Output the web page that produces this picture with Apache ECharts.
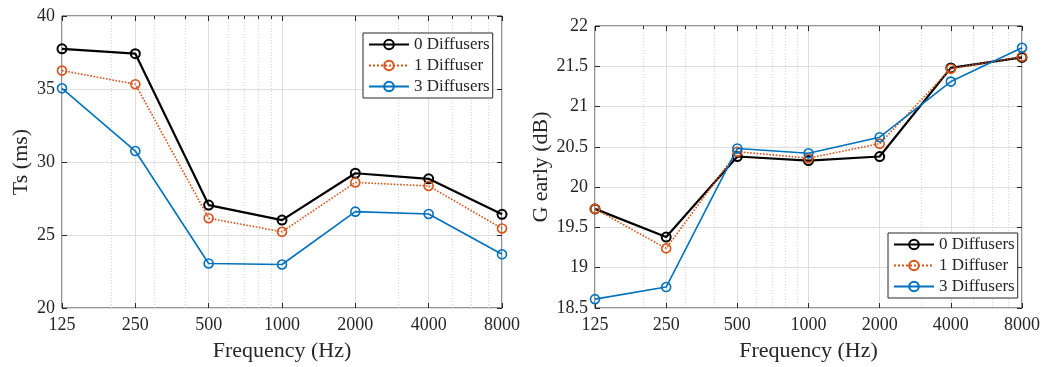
<!DOCTYPE html>
<html>
<head>
<meta charset="utf-8">
<script src="https://cdn.jsdelivr.net/npm/echarts@6/dist/echarts.min.js"></script>
<style>html,body{margin:0;padding:0;background:#fff}#c{width:1044px;height:367px}</style>
</head>
<body>
<div id="c"></div>
<script>
// ---- data ----
const freqs = [125, 250, 500, 1000, 2000, 4000, 8000];
const minorFreqs = [200, 300, 400, 600, 700, 800, 900, 3000, 5000, 6000, 7000];
const seriesNames = ['0 Diffusers', '1 Diffuser', '3 Diffusers'];
const ts0 = [37.75, 37.42, 27.05, 26.02, 29.23, 28.85, 26.42];
const ts1 = [36.26, 35.33, 26.15, 25.22, 28.60, 28.36, 25.45];
const ts3 = [35.05, 30.75, 23.05, 22.98, 26.60, 26.44, 23.68];
const g0 = [19.73, 19.38, 20.38, 20.33, 20.38, 21.48, 21.61];
const g1 = [19.73, 19.24, 20.44, 20.36, 20.54, 21.47, 21.62];
const g3 = [18.61, 18.76, 20.48, 20.42, 20.62, 21.31, 21.73];
const tsTicks = [20, 25, 30, 35, 40];
const gTicks = [18.5, 19, 19.5, 20, 20.5, 21, 21.5, 22];

const FONT = 'Liberation Serif';
const AX = '#262626';
const colors = ['#000000', '#D95319', '#0072BD'];
const widths = [2.2, 1.6, 1.6];
const types = ['solid', 'dotted', 'solid'];

function xAxes(gridIndex) {
  return [
    {
      type: 'log', logBase: 2, gridIndex, min: freqs[0], max: freqs[freqs.length - 1],
      name: 'Frequency (Hz)', nameLocation: 'middle', nameGap: 32,
      nameTextStyle: { fontFamily: FONT, fontSize: 22, color: AX },
      axisLine: { show: false },
      axisTick: { show: true, inside: true, length: 5, customValues: freqs, lineStyle: { color: AX } },
      axisLabel: { customValues: freqs, fontFamily: FONT, fontSize: 18, color: AX, margin: 8,
        formatter: v => String(Math.round(v)) },
      splitLine: { show: true, lineStyle: { color: '#dfdfdf', width: 1 } },
      minorTick: { show: false }
    },
    {
      type: 'log', logBase: 2, gridIndex, min: freqs[0], max: freqs[freqs.length - 1],
      axisLine: { show: false },
      axisTick: { show: true, inside: true, length: 3, customValues: minorFreqs, lineStyle: { color: AX } },
      axisLabel: { show: false, customValues: minorFreqs },
      splitLine: { show: true, lineStyle: { color: '#d4d4d4', width: 1, type: [1, 2] } }
    },
    {
      type: 'log', logBase: 2, gridIndex, min: freqs[0], max: freqs[freqs.length - 1], position: 'top',
      axisLine: { show: false },
      axisTick: { show: true, inside: true, length: 5, customValues: freqs, lineStyle: { color: AX } },
      axisLabel: { show: false, customValues: freqs },
      splitLine: { show: false }
    }
  ];
}

function yAxes(gridIndex, min, max, interval, name, nameGap) {
  return [
    {
      type: 'value', gridIndex, min, max, interval,
      name, nameLocation: 'middle', nameGap,
      nameTextStyle: { fontFamily: FONT, fontSize: 22, color: AX },
      axisLine: { show: false },
      axisTick: { show: true, inside: true, length: 5, lineStyle: { color: AX } },
      axisLabel: { fontFamily: FONT, fontSize: 18, color: AX, margin: 7 },
      splitLine: { show: true, lineStyle: { color: '#dfdfdf', width: 1 } }
    },
    {
      type: 'value', gridIndex, min, max, interval, position: 'right',
      axisLine: { show: false },
      axisTick: { show: true, inside: true, length: 5, lineStyle: { color: AX } },
      axisLabel: { show: false },
      splitLine: { show: false }
    }
  ];
}

function mkSeries(vals, xIdx, yIdx) {
  return vals.map((arr, k) => ({
    type: 'line', name: seriesNames[k], xAxisIndex: xIdx, yAxisIndex: yIdx,
    data: freqs.map((f, i) => [f, arr[i]]),
    symbol: 'circle', symbolSize: 9,
    itemStyle: { color: 'rgba(255,255,255,0)', borderColor: colors[k], borderWidth: k === 0 ? 2 : 1.6 },
    lineStyle: { color: colors[k], width: widths[k], type: types[k] },
    z: 3 + k, animation: false
  }));
}

function legend(left, top) {
  return {
    left, top, orient: 'vertical', itemWidth: 40, itemHeight: 12, itemGap: 4,
    padding: [3, 3, 3, 5], borderColor: AX, borderWidth: 1, backgroundColor: '#fff',
    textStyle: { fontFamily: FONT, fontSize: 17, color: AX },
    data: seriesNames, selectedMode: false
  };
}

const chart = echarts.init(document.getElementById('c'), null, { renderer: 'canvas' });
chart.setOption({
  animation: false,
  backgroundColor: '#fff',
  grid: [
    { left: 62, right: 542, top: 16, bottom: 56, show: true, borderColor: AX, borderWidth: 1, backgroundColor: 'transparent' },
    { left: 595, right: 22, top: 26, bottom: 55, show: true, borderColor: AX, borderWidth: 1, backgroundColor: 'transparent' }
  ],
  legend: [legend(363, 33), legend(888, 233)],
  xAxis: [...xAxes(0), ...xAxes(1)],
  yAxis: [...yAxes(0, tsTicks[0], tsTicks[tsTicks.length - 1], 5, 'Ts (ms)', 30),
          ...yAxes(1, gTicks[0], gTicks[gTicks.length - 1], 0.5, 'G early (dB)', 43)],
  series: [...mkSeries([ts0, ts1, ts3], 0, 0), ...mkSeries([g0, g1, g3], 3, 2)]
});
</script>
</body>
</html>
